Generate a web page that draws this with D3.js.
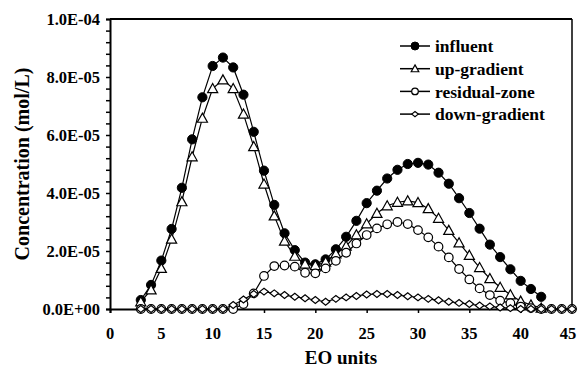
<!DOCTYPE html>
<html>
<head>
<meta charset="utf-8">
<script src="https://cdn.jsdelivr.net/npm/d3@7"></script>
<style>
  body { margin: 0; background: #fff; }
  text { font-family: "Liberation Serif", "Times New Roman", serif; font-weight: bold; fill: #000; }
</style>
</head>
<body>
<svg></svg>
<script>
// concentrations in units of 1E-05 mol/L, EO units start at 3
const startEO = 3;
const influent = [0.31, 0.83, 1.67, 2.76, 4.18, 5.85, 7.30, 8.38, 8.67, 8.33, 7.39, 6.11, 4.77, 3.59, 2.61, 2.03, 1.60, 1.54, 1.71, 2.06,
  2.49, 3.04, 3.65, 4.08, 4.50, 4.80, 5.00, 5.04, 4.98, 4.70, 4.32, 3.82, 3.31, 2.77, 2.22, 1.79, 1.37, 0.97, 0.69, 0.42];
const upGradient = [0.25, 0.66, 1.40, 2.41, 3.70, 5.25, 6.58, 7.60, 7.90, 7.60, 6.72, 5.60, 4.31, 3.21, 2.34, 1.82, 1.55, 1.50, 1.62, 1.90,
  2.17, 2.56, 2.94, 3.30, 3.56, 3.68, 3.73, 3.67, 3.46, 3.13, 2.71, 2.28, 1.85, 1.43, 1.05, 0.75, 0.49, 0.27, 0.14, 0.03];
const residualZone = [0, 0, 0, 0, 0, 0, 0, 0, 0, 0, 0.17, 0.54, 1.14, 1.48, 1.50, 1.46, 1.25, 1.23, 1.40, 1.66,
  1.94, 2.26, 2.55, 2.78, 2.92, 3.00, 2.93, 2.72, 2.47, 2.15, 1.78, 1.38, 1.02, 0.71, 0.48, 0.29, 0.20, 0.08, 0.03, 0, 0, 0, 0];
const downGradient = [0, 0, 0, 0, 0, 0, 0, 0, 0, 0.14, 0.33, 0.52, 0.60, 0.54, 0.48, 0.42, 0.37, 0.31, 0.25, 0.35,
  0.40, 0.45, 0.50, 0.52, 0.52, 0.48, 0.44, 0.40, 0.35, 0.30, 0.25, 0.21, 0.17, 0.12, 0.09, 0.05, 0.03, 0, 0, 0, 0, 0, 0];

const seriesNames = ['influent', 'up-gradient', 'residual-zone', 'down-gradient'];
const xTicks = [0, 5, 10, 15, 20, 25, 30, 35, 40, 45];
const yTicks = [0, 2, 4, 6, 8, 10];
const yTickLabels = ['0.0E+00', '2.0E-05', '4.0E-05', '6.0E-05', '8.0E-05', '1.0E-04'];

const width = 578, height = 368;
const margin = { top: 19, right: 6, bottom: 59, left: 110 };

const svg = d3.select('svg')
    .attr('width', width)
    .attr('height', height);

const x = d3.scaleLinear().domain([0, 45]).range([margin.left, width - margin.right]);
const y = d3.scaleLinear().domain([0, 10]).range([height - margin.bottom, margin.top]);

// frame on top and right
svg.append('line')
  .attr('x1', x(0)).attr('x2', x(45)).attr('y1', y(10)).attr('y2', y(10))
  .attr('stroke', '#000').attr('stroke-width', 2);
svg.append('line')
  .attr('x1', x(45)).attr('x2', x(45)).attr('y1', y(10)).attr('y2', y(0))
  .attr('stroke', '#000').attr('stroke-width', 1.5);

// axes
const yAxis = svg.append('g')
  .attr('transform', `translate(${x(0)},0)`)
  .call(d3.axisLeft(y).tickValues(d3.range(0, 10.01, 0.4)).tickSize(4).tickFormat(''));
yAxis.select('.domain').attr('stroke-width', 2);
yAxis.selectAll('.tick line').attr('stroke-width', 1.5);

svg.selectAll('.ylab')
  .data(yTicks)
  .enter()
  .append('text')
  .attr('class', 'ylab')
  .attr('x', x(0) - 10)
  .attr('y', d => y(d))
  .attr('dy', '0.35em')
  .attr('text-anchor', 'end')
  .style('font-size', '16.5px')
  .text((d, i) => yTickLabels[i]);

const xAxis = svg.append('g')
  .attr('transform', `translate(0,${y(0)})`)
  .call(d3.axisBottom(x).tickValues(xTicks).tickSize(4).tickFormat(''));
xAxis.select('.domain').attr('stroke-width', 2);
xAxis.selectAll('.tick line').attr('stroke-width', 1.5);

svg.selectAll('.xlab')
  .data(xTicks)
  .enter()
  .append('text')
  .attr('class', 'xlab')
  .attr('x', d => Math.min(x(d), width - 10))
  .attr('y', y(0) + 30)
  .attr('text-anchor', 'middle')
  .style('font-size', '16.5px')
  .text(d => d);

// axis titles
svg.append('text')
  .attr('transform', `translate(29,${(y(0) + y(10)) / 2}) rotate(-90)`)
  .attr('text-anchor', 'middle')
  .style('font-size', '20px')
  .text('Concentration (mol/L)');

svg.append('text')
  .attr('x', (x(0) + x(45)) / 2)
  .attr('y', 364)
  .attr('text-anchor', 'middle')
  .style('font-size', '19px')
  .text('EO units');

// markers
const drawMarker = (sel, type, r) => {
  if (type === 'circleFilled') {
    sel.append('circle').attr('r', r).attr('fill', '#000').attr('stroke', '#000');
  } else if (type === 'circle') {
    sel.append('circle').attr('r', r).attr('fill', '#fff').attr('stroke', '#000').attr('stroke-width', 1.2);
  } else if (type === 'triangle') {
    const s = r * 1.15;
    sel.append('path')
      .attr('d', `M0,${-s}L${s},${s * 0.8}L${-s},${s * 0.8}Z`)
      .attr('fill', '#fff').attr('stroke', '#000').attr('stroke-width', 1.2);
  } else {
    const w = r, h = r * 0.8;
    sel.append('path')
      .attr('d', `M${-w},0L0,${-h}L${w},0L0,${h}Z`)
      .attr('fill', '#fff').attr('stroke', '#000').attr('stroke-width', 1.2);
  }
};

const series = [
  { name: seriesNames[0], values: influent, marker: 'circleFilled', r: 4.6 },
  { name: seriesNames[1], values: upGradient, marker: 'triangle', r: 4.4 },
  { name: seriesNames[2], values: residualZone, marker: 'circle', r: 4.3 },
  { name: seriesNames[3], values: downGradient, marker: 'diamond', r: 4.3 }
];

const line = d3.line()
  .x((d, i) => x(startEO + i))
  .y(d => y(d));

series.forEach(s => {
  svg.append('path')
    .datum(s.values)
    .attr('d', line)
    .attr('fill', 'none')
    .attr('stroke', '#000')
    .attr('stroke-width', 1.2);

  const pts = svg.append('g').selectAll('g')
    .data(s.values)
    .enter()
    .append('g')
    .attr('transform', (d, i) => `translate(${x(startEO + i)},${y(d)})`);
  drawMarker(pts, s.marker, s.r);
});

// legend
const legend = svg.append('g').attr('transform', 'translate(400,46)');
const rows = legend.selectAll('g')
  .data(series)
  .enter()
  .append('g')
  .attr('transform', (d, i) => `translate(0,${i * 22.7})`);
rows.append('line')
  .attr('x1', 0).attr('x2', 30)
  .attr('stroke', '#000').attr('stroke-width', 1.5);
rows.each(function (d) {
  const g = d3.select(this).append('g').attr('transform', 'translate(15,0)');
  drawMarker(g, d.marker, d.marker === 'circleFilled' ? 4 : 3.3);
});
rows.append('text')
  .attr('x', 35)
  .attr('dy', '0.35em')
  .style('font-size', '17.5px')
  .text(d => d.name);
</script>
</body>
</html>
